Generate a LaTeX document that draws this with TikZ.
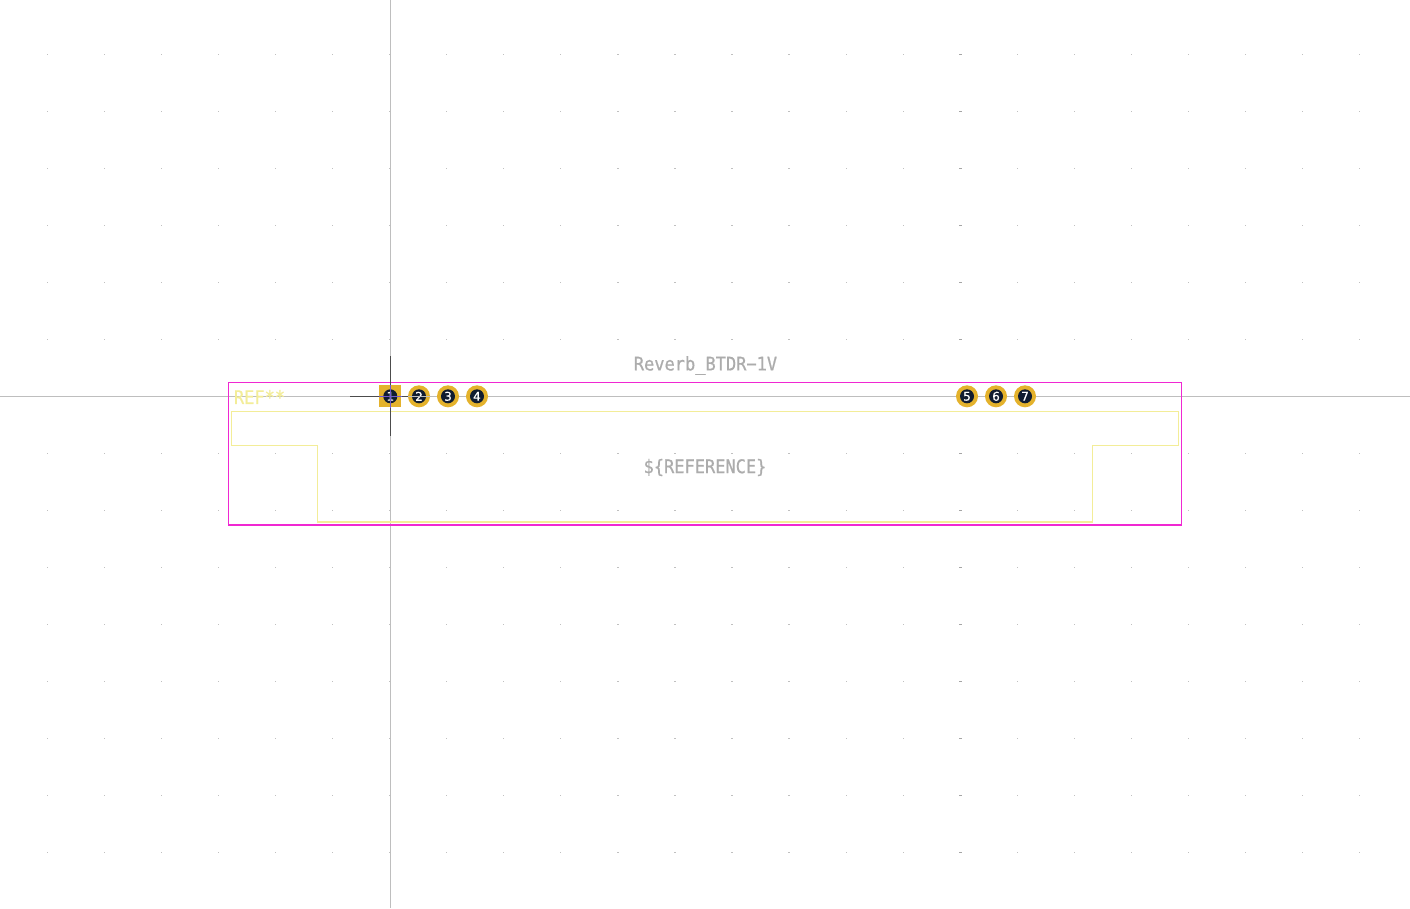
\documentclass[tikz,border=0pt]{standalone}
\usepackage{fontspec}
\setmainfont{DejaVu Sans Mono}
\newfontfamily\numfont{DejaVu Sans}[FakeBold=0.6]
\newfontfamily\fabfont{DejaVu Sans Mono}[FakeBold=0.7]
\definecolor{axisgrey}{RGB}{190,190,190}
\definecolor{griddot}{RGB}{192,192,192}
\definecolor{gridmajor}{RGB}{165,165,165}
\definecolor{courtyard}{RGB}{240,40,210}
\definecolor{silk}{RGB}{243,237,152}
\definecolor{padgold}{RGB}{228,178,44}
\definecolor{holedark}{RGB}{16,28,48}
\definecolor{fabtext}{RGB}{172,172,172}
\definecolor{anchorpurple}{RGB}{112,90,205}
\tikzset{
  axisline/.style={draw=axisgrey,line width=1.2pt},
  anchorline/.style={draw=black!70,line width=1.2pt},
  courtline/.style={draw=courtyard,line width=1.3pt},
  silkline/.style={draw=silk,line width=1.3pt},
  fabtxt/.style={text=fabtext,font=\fabfont\fontsize{17}{17}\selectfont,inner sep=0pt,yscale=1.1},
  roundpad/.style={circle,fill=padgold,minimum size=22pt,inner sep=0pt},
  squarepad/.style={rectangle,fill=padgold,minimum size=22pt,inner sep=0pt},
  padhole/.style={circle,fill=holedark,minimum size=14pt,inner sep=0pt,text=white,font=\numfont\fontsize{12}{12}\selectfont},
}
\begin{document}
\begin{tikzpicture}[x=1pt,y=-1pt]
\useasboundingbox (0,0) rectangle (1410,908);
\fill[white] (0,0) rectangle (1410,908);
% grid
\foreach \i in {0,...,23}{\foreach \j in {0,...,14}{
  \fill[griddot] ({47.3+57.06*\i-0.6},{54.3+57*\j-0.6}) rectangle ++(1.2,1.2);
}}
\foreach \j in {0,...,14}{\fill[gridmajor] (959,{54.3+57*\j-0.6}) rectangle ++(3.4,1.2);}
% axes
\draw[axisline] (0,396.3) -- (1410,396.3);
\draw[axisline] (390.3,0) -- (390.3,908);
% courtyard
\draw[courtline] (228.5,382.5) rectangle (1181.5,525);
% silk outline
\draw[silkline] (231.5,411.5) -- (1178.5,411.5) -- (1178.5,445.5) -- (1092.5,445.5) -- (1092.5,522) -- (317.8,522) -- (317.8,445.5) -- (231.5,445.5) -- cycle;
% text
\node[fabtxt] (value) at (705.5,365.5) {Reverb\_BTDR−1V};
\node[fabtxt] (fabref) at (705,467.5) {\$\{REFERENCE\}};
\node[fabtxt,text=silk] (silkref) at (259.5,397) {REF**};
% pads
\node[squarepad] (p1) at (390.3,396.3) {};
\foreach \n/\x in {2/419,3/448,4/477,5/967,6/996,7/1025}{
  \node[roundpad] (p\n) at (\x,396.3) {};
}
\foreach \n/\x in {1/390.3,2/419,3/448,4/477,5/967,6/996,7/1025}{
  \node[padhole] (h\n) at (\x,396.3) {\n};
}
% anchor cross
\coordinate (al) at (350,396.3);
\coordinate (ar) at (430,396.3);
\coordinate (at) at (390.3,356);
\coordinate (ab) at (390.3,436);
\draw[anchorline] (al) -- (p1.west);
\draw[anchorline] (p1.east) -- (p2.west);
\draw[anchorline] (at) -- (p1.north);
\draw[anchorline] (p1.south) -- (ab);
\draw[draw=anchorpurple,line width=1.1pt] (p1.west) -- (p1.east);
\draw[draw=anchorpurple,line width=1.1pt] (p1.north) -- (p1.south);
\draw[draw=axisgrey,line width=1.1pt] (p2.west) -- (ar);
\end{tikzpicture}
\end{document}
